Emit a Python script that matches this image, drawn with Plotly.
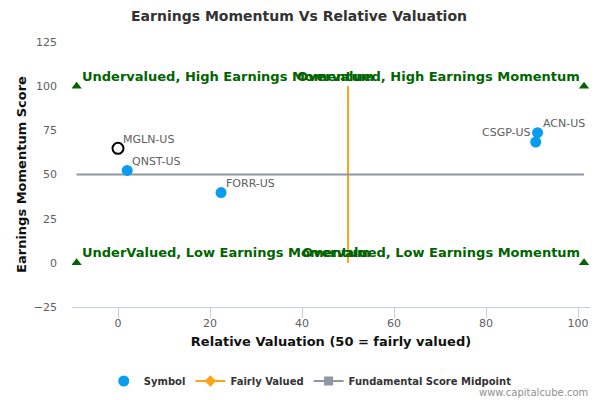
import plotly.graph_objects as go

# data
symbols = ['MGLN-US', 'QNST-US', 'FORR-US', 'ACN-US', 'CSGP-US']
valuation = [0.0, 2.0, 22.4, 91.2, 90.8]
momentum = [64.8, 52.3, 39.8, 73.7, 68.4]
label_side = ['left', 'left', 'left', 'left', 'right']

quadrant_names = ['Undervalued, High Earnings Momentum', 'Overvalued, High Earnings Momentum',
                  'UnderValued, Low Earnings Momentum', 'Overvalued, Low Earnings Momentum']
quadrant_x = [-9, 101.3, -9, 101.3]
quadrant_y = [100, 100, 0, 0]
quadrant_side = ['left', 'right', 'left', 'right']

fair_x = [50, 50]
fair_y = [0, 100]
mid_x = [-9, 101.3]
mid_y = [50, 50]

font = 'DejaVu Sans'
green = '#006400'

fig = go.Figure()

# reference lines
fig.add_trace(go.Scatter(x=fair_x, y=fair_y, mode='lines', showlegend=False, hoverinfo='skip',
                         line=dict(color='#ffa31a', width=2)))
fig.add_trace(go.Scatter(x=mid_x, y=mid_y, mode='lines', showlegend=False, hoverinfo='skip',
                         line=dict(color='#8f95a3', width=2)))

# quadrant markers
fig.add_trace(go.Scatter(
    x=quadrant_x, y=quadrant_y, mode='markers', showlegend=False,
    marker=dict(symbol='triangle-up', size=9, color=green)
))

# the companies (first one is the highlighted one)
fig.add_trace(go.Scatter(
    x=valuation[1:], y=momentum[1:], mode='markers', name='Symbol',
    marker=dict(size=11, color='#0a9cf0')
))
fig.add_trace(go.Scatter(
    x=valuation[:1], y=momentum[:1], mode='markers', showlegend=False,
    marker=dict(size=11, color='white', line=dict(color='black', width=2))
))

# legend entries
fig.add_trace(go.Scatter(x=[None], y=[None], mode='lines+markers', name='Fairly Valued',
                         line=dict(color='#ffa31a', width=2),
                         marker=dict(symbol='diamond', size=9, color='#ffa31a')))
fig.add_trace(go.Scatter(x=[None], y=[None], mode='lines+markers', name='Fundamental Score Midpoint',
                         line=dict(color='#8f95a3', width=2),
                         marker=dict(symbol='square', size=9, color='#8f95a3')))

annotations = []
for name, x, y, side in zip(quadrant_names, quadrant_x, quadrant_y, quadrant_side):
    annotations.append(dict(text='<b>' + name + '</b>', x=x, y=y, xanchor=side, yanchor='middle',
                            xshift=3 if side == 'left' else -2, yshift=10, showarrow=False,
                            font=dict(size=13, color=green)))
for name, x, y, side in zip(symbols, valuation, momentum, label_side):
    annotations.append(dict(text=name, x=x, y=y, xanchor=side, yanchor='middle',
                            xshift=3 if side == 'left' else -3, yshift=9, showarrow=False,
                            font=dict(size=11, color='#606060')))
annotations.append(dict(text='www.capitalcube.com', x=1, y=0, xref='paper', yref='paper',
                        xanchor='right', yanchor='middle', yshift=-85, showarrow=False,
                        font=dict(size=10, color='#909090')))

# the page body adds 8px, so the figure is 592x392
fig.update_layout(
    width=592, height=392,
    margin=dict(l=64, r=10, t=34, b=93),
    paper_bgcolor='white', plot_bgcolor='white',
    font=dict(family=font, color='#333333'),
    title=dict(text='Earnings Momentum Vs Relative Valuation', x=0.4916, xref='container',
               xanchor='center', y=0.98, yref='container', yanchor='middle',
               font=dict(family=font, size=14, color='#333333', weight='bold')),
    xaxis=dict(range=[-10, 102.6], tickvals=[0, 20, 40, 60, 80, 100], showgrid=False,
               zeroline=False, showline=True, linecolor='#c0d0e0', linewidth=1,
               ticks='outside', tickcolor='#c0d0e0', ticklen=10, ticklabelstandoff=-4,
               tickfont=dict(size=11, color='#606060'),
               title=dict(text='<b>Relative Valuation (50 = fairly valued)</b>',
                          font=dict(size=13, color='#111111'), standoff=7)),
    yaxis=dict(range=[-25, 125], tickvals=[-25, 0, 25, 50, 75, 100, 125], showgrid=False,
               zeroline=False, showline=False, ticklabelstandoff=14,
               tickfont=dict(size=11, color='#606060'),
               title=dict(text='<b>Earnings Momentum Score</b>',
                          font=dict(size=13, color='#111111'), standoff=4)),
    legend=dict(orientation='h', x=0.46, xanchor='center', y=0.0485, yref='container',
                yanchor='middle', font=dict(size=10, color='#333333', weight='bold')),
    annotations=annotations
)

fig.write_html('out.html')
